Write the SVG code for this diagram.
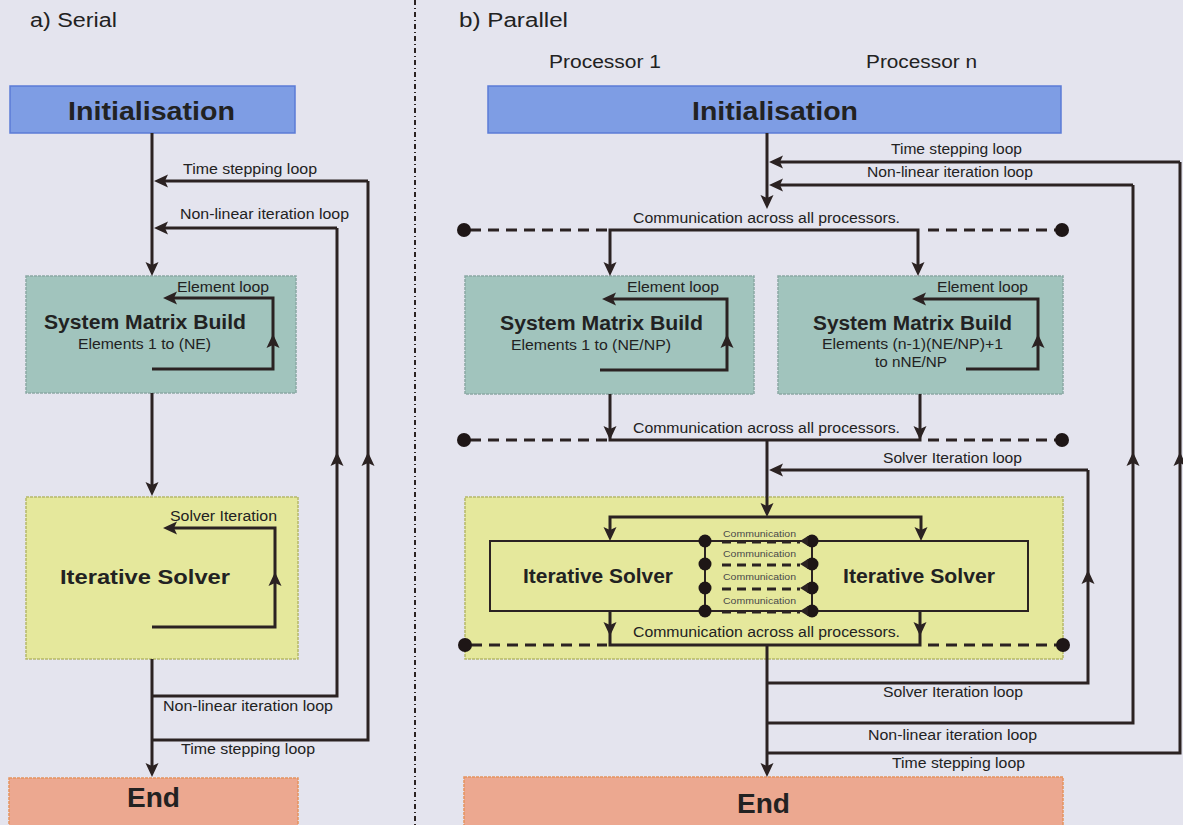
<svg xmlns="http://www.w3.org/2000/svg" xmlns:xlink="http://www.w3.org/1999/xlink" width="1183" height="825" viewBox="0 0 1183 825">
<style>
.t{font-family:"Liberation Sans",Arial,sans-serif;fill:#222;}
.b{font-weight:bold;}
.sm{fill:#4a4a4a;}
.ln{fill:none;stroke:#2b2222;stroke-width:3;}
.th{fill:none;stroke:#2b2222;stroke-width:2;}
.ds{fill:none;stroke:#2b2222;stroke-width:3;stroke-dasharray:11,7;}
.dsm{fill:none;stroke:#2b2222;stroke-width:3;stroke-dasharray:9,6;}
.ah{fill:#2b2222;}
.dot{fill:#1e1616;}
.init{fill:#7e9de4;stroke:#5b7bd6;stroke-width:1.5;}
.smb{fill:#a1c4bd;stroke:#8aa8a4;stroke-width:1.5;stroke-dasharray:3,1;}
.is{fill:#e5e89c;stroke:#b5b86a;stroke-width:1.5;stroke-dasharray:3,1;}
.end{fill:#eca890;stroke:#e5935e;stroke-width:1.5;stroke-dasharray:3,1;}
</style>
<defs>
<path id="ah" class="ah" d="M0,0 L-6.5,-14 L0,-11 L6.5,-14 Z"/>
</defs>
<rect x="0" y="0" width="1183" height="825" fill="#e4e4ee"/>

<!-- divider -->
<path d="M415,0 V825" fill="none" stroke="#2b2222" stroke-width="2" stroke-dasharray="5,3,1,3"/>

<!-- headings -->
<g id="heading-serial"><text class="t" x="30" y="27" font-size="20" textLength="87" lengthAdjust="spacingAndGlyphs">a) Serial</text></g>
<g id="heading-parallel"><text class="t" x="459" y="27" font-size="20" textLength="109" lengthAdjust="spacingAndGlyphs">b) Parallel</text></g>
<g id="label-proc1"><text class="t" x="549" y="68" font-size="18" textLength="112" lengthAdjust="spacingAndGlyphs">Processor 1</text></g>
<g id="label-procn"><text class="t" x="866" y="68" font-size="18" textLength="111" lengthAdjust="spacingAndGlyphs">Processor n</text></g>

<!-- Serial nodes -->
<g id="s-init">
<rect class="init" x="10" y="86" width="285" height="47"/>
<text class="t b" x="68" y="120" font-size="26" textLength="167" lengthAdjust="spacingAndGlyphs">Initialisation</text>
</g>
<g id="s-smb">
<rect class="smb" x="26" y="276" width="270" height="117"/>
<text class="t b" x="44" y="329" font-size="20" textLength="202" lengthAdjust="spacingAndGlyphs">System Matrix Build</text>
<text class="t" x="78" y="349" font-size="14" textLength="133" lengthAdjust="spacingAndGlyphs">Elements 1 to (NE)</text>
</g>
<g id="s-is">
<rect class="is" x="26" y="497" width="272" height="162"/>
<text class="t b" x="60" y="584" font-size="21" textLength="170" lengthAdjust="spacingAndGlyphs">Iterative Solver</text>
</g>
<g id="s-end">
<rect class="end" x="9" y="778" width="289" height="60"/>
<text class="t b" x="127" y="807" font-size="27" textLength="53" lengthAdjust="spacingAndGlyphs">End</text>
</g>

<!-- Parallel nodes -->
<g id="p-init">
<rect class="init" x="488" y="86" width="573" height="47"/>
<text class="t b" x="692" y="120" font-size="26" textLength="166" lengthAdjust="spacingAndGlyphs">Initialisation</text>
</g>
<g id="p-smb1">
<rect class="smb" x="465" y="276" width="289" height="118"/>
<text class="t b" x="500" y="330" font-size="20" textLength="203" lengthAdjust="spacingAndGlyphs">System Matrix Build</text>
<text class="t" x="511" y="350" font-size="14" textLength="160" lengthAdjust="spacingAndGlyphs">Elements 1 to (NE/NP)</text>
</g>
<g id="p-smbn">
<rect class="smb" x="778" y="276" width="285" height="118"/>
<text class="t b" x="813" y="330" font-size="20" textLength="199" lengthAdjust="spacingAndGlyphs">System Matrix Build</text>
<text class="t" x="822" y="349" font-size="14" textLength="181" lengthAdjust="spacingAndGlyphs">Elements (n-1)(NE/NP)+1</text>
<text class="t" x="875" y="367" font-size="14" textLength="72" lengthAdjust="spacingAndGlyphs">to nNE/NP</text>
</g>
<g id="p-is">
<rect class="is" x="465" y="497" width="598" height="162"/>
<rect class="th" x="490" y="541" width="538" height="70"/>
<text class="t b" x="523" y="583" font-size="20" textLength="150" lengthAdjust="spacingAndGlyphs">Iterative Solver</text>
<text class="t b" x="843" y="583" font-size="20" textLength="152" lengthAdjust="spacingAndGlyphs">Iterative Solver</text>
</g>
<g id="p-end">
<rect class="end" x="464" y="777" width="599" height="60"/>
<text class="t b" x="737" y="813" font-size="27" textLength="53" lengthAdjust="spacingAndGlyphs">End</text>
</g>

<!-- connectors -->
<g id="connectors">
<!-- serial -->
<path class="ln" d="M152,133 V268"/>
<use xlink:href="#ah" href="#ah" transform="translate(152,276)"/>
<path class="ln" d="M368,181 H160"/>
<use xlink:href="#ah" href="#ah" transform="translate(154,181) rotate(90)"/>
<path class="ln" d="M337,228 H160"/>
<use xlink:href="#ah" href="#ah" transform="translate(154,228) rotate(90)"/>
<path class="ln" d="M337,228 V696 H152"/>
<use xlink:href="#ah" href="#ah" transform="translate(337,452) rotate(180)"/>
<path class="ln" d="M368,181 V740 H152"/>
<use xlink:href="#ah" href="#ah" transform="translate(368,452) rotate(180)"/>
<path class="ln" d="M152,369 H273 V298 H170"/>
<use xlink:href="#ah" href="#ah" transform="translate(163,298) rotate(90)"/>
<use xlink:href="#ah" href="#ah" transform="translate(273,334) rotate(180)"/>
<path class="ln" d="M152,393 V488"/>
<use xlink:href="#ah" href="#ah" transform="translate(152,496)"/>
<path class="ln" d="M152,627 H275 V528 H170"/>
<use xlink:href="#ah" href="#ah" transform="translate(163,528) rotate(90)"/>
<use xlink:href="#ah" href="#ah" transform="translate(275,572) rotate(180)"/>
<path class="ln" d="M152,659 V769"/>
<use xlink:href="#ah" href="#ah" transform="translate(152,777)"/>

<!-- parallel: top -->
<path class="ln" d="M767,133 V201"/>
<use xlink:href="#ah" href="#ah" transform="translate(767,209)"/>
<path class="ln" d="M1180,162 H775"/>
<use xlink:href="#ah" href="#ah" transform="translate(769,162) rotate(90)"/>
<path class="ln" d="M1133,185 H775"/>
<use xlink:href="#ah" href="#ah" transform="translate(769,185) rotate(90)"/>
<path class="ln" d="M1180,162 V753 H767"/>
<use xlink:href="#ah" href="#ah" transform="translate(1180,452) rotate(180)"/>
<path class="ln" d="M1133,185 V723 H767"/>
<use xlink:href="#ah" href="#ah" transform="translate(1133,452) rotate(180)"/>

<!-- comm 1 -->
<path class="ln" d="M610,268 V230 H918 V268"/>
<use xlink:href="#ah" href="#ah" transform="translate(610,276)"/>
<use xlink:href="#ah" href="#ah" transform="translate(918,276)"/>
<path class="ds" d="M470,230 H607"/>
<path class="ds" d="M928,230 H1056"/>
<circle class="dot" cx="464" cy="230" r="7"/>
<circle class="dot" cx="1062" cy="230" r="7"/>

<!-- element loops -->
<path class="ln" d="M600,370 H727 V299 H609"/>
<use xlink:href="#ah" href="#ah" transform="translate(602,299) rotate(90)"/>
<use xlink:href="#ah" href="#ah" transform="translate(727,334) rotate(180)"/>
<path class="ln" d="M966,369 H1038 V299 H919"/>
<use xlink:href="#ah" href="#ah" transform="translate(912,299) rotate(90)"/>
<use xlink:href="#ah" href="#ah" transform="translate(1038,334) rotate(180)"/>

<!-- comm 2 -->
<path class="ln" d="M610,394 V440 H920 V394"/>
<use xlink:href="#ah" href="#ah" transform="translate(610,440)"/>
<use xlink:href="#ah" href="#ah" transform="translate(920,440)"/>
<path class="ds" d="M470,440 H607"/>
<path class="ds" d="M928,440 H1056"/>
<circle class="dot" cx="464" cy="440" r="7"/>
<circle class="dot" cx="1062" cy="440" r="7"/>

<!-- into solver -->
<path class="ln" d="M767,440 V509"/>
<use xlink:href="#ah" href="#ah" transform="translate(767,517)"/>
<path class="ln" d="M1088,470 H775"/>
<use xlink:href="#ah" href="#ah" transform="translate(769,470) rotate(90)"/>
<path class="ln" d="M1088,470 V683 H767"/>
<use xlink:href="#ah" href="#ah" transform="translate(1088,570) rotate(180)"/>
<path class="ln" d="M610,533 V517 H921 V533"/>
<use xlink:href="#ah" href="#ah" transform="translate(610,541)"/>
<use xlink:href="#ah" href="#ah" transform="translate(921,541)"/>

<!-- inner communication -->
<path class="th" d="M705,541 V611 M812,541 V611"/>
<path class="dsm" d="M722,542 H800 M722,565 H800 M722,589 H800 M722,612 H800"/>
<circle class="dot" cx="705" cy="541" r="6.5"/>
<circle class="dot" cx="705" cy="564" r="6.5"/>
<circle class="dot" cx="705" cy="588" r="6.5"/>
<circle class="dot" cx="705" cy="611" r="6.5"/>
<circle class="dot" cx="812" cy="541" r="6.5"/>
<circle class="dot" cx="812" cy="564" r="6.5"/>
<circle class="dot" cx="812" cy="588" r="6.5"/>
<circle class="dot" cx="812" cy="611" r="6.5"/>
<path class="ah" d="M800,541 L808,536 L808,546 Z M800,564 L808,559 L808,569 Z M800,588 L808,583 L808,593 Z M800,611 L808,606 L808,616 Z"/>

<!-- comm 3 -->
<path class="ln" d="M610,611 V645 H920 V611"/>
<use xlink:href="#ah" href="#ah" transform="translate(610,636)"/>
<use xlink:href="#ah" href="#ah" transform="translate(920,636)"/>
<path class="ds" d="M471,645 H607"/>
<path class="ds" d="M928,645 H1057"/>
<circle class="dot" cx="465" cy="645" r="7"/>
<circle class="dot" cx="1063" cy="645" r="7"/>

<path class="ln" d="M767,645 V769"/>
<use xlink:href="#ah" href="#ah" transform="translate(767,777)"/>
</g>

<!-- connector labels -->
<g id="labels">
<text class="t" x="183" y="174" font-size="14" textLength="134" lengthAdjust="spacingAndGlyphs">Time stepping loop</text>
<text class="t" x="180" y="219" font-size="14" textLength="169" lengthAdjust="spacingAndGlyphs">Non-linear iteration loop</text>
<text class="t" x="177" y="292" font-size="14" textLength="92" lengthAdjust="spacingAndGlyphs">Element loop</text>
<text class="t" x="170" y="521" font-size="14" textLength="107" lengthAdjust="spacingAndGlyphs">Solver Iteration</text>
<text class="t" x="163" y="711" font-size="14" textLength="170" lengthAdjust="spacingAndGlyphs">Non-linear iteration loop</text>
<text class="t" x="181" y="754" font-size="14" textLength="134" lengthAdjust="spacingAndGlyphs">Time stepping loop</text>

<text class="t" x="891" y="154" font-size="14" textLength="131" lengthAdjust="spacingAndGlyphs">Time stepping loop</text>
<text class="t" x="867" y="177" font-size="14" textLength="166" lengthAdjust="spacingAndGlyphs">Non-linear iteration loop</text>
<text class="t" x="633" y="223" font-size="14" textLength="267" lengthAdjust="spacingAndGlyphs">Communication across all processors.</text>
<text class="t" x="627" y="292" font-size="14" textLength="92" lengthAdjust="spacingAndGlyphs">Element loop</text>
<text class="t" x="937" y="292" font-size="14" textLength="91" lengthAdjust="spacingAndGlyphs">Element loop</text>
<text class="t" x="633" y="433" font-size="14" textLength="267" lengthAdjust="spacingAndGlyphs">Communication across all processors.</text>
<text class="t" x="883" y="463" font-size="14" textLength="139" lengthAdjust="spacingAndGlyphs">Solver Iteration loop</text>
<text class="t sm" x="723" y="537" font-size="9" textLength="73" lengthAdjust="spacingAndGlyphs">Communication</text>
<text class="t sm" x="723" y="557" font-size="9" textLength="73" lengthAdjust="spacingAndGlyphs">Communication</text>
<text class="t sm" x="723" y="580" font-size="9" textLength="73" lengthAdjust="spacingAndGlyphs">Communication</text>
<text class="t sm" x="723" y="604" font-size="9" textLength="73" lengthAdjust="spacingAndGlyphs">Communication</text>
<text class="t" x="633" y="637" font-size="14" textLength="267" lengthAdjust="spacingAndGlyphs">Communication across all processors.</text>
<text class="t" x="883" y="697" font-size="14" textLength="140" lengthAdjust="spacingAndGlyphs">Solver Iteration loop</text>
<text class="t" x="868" y="740" font-size="14" textLength="169" lengthAdjust="spacingAndGlyphs">Non-linear iteration loop</text>
<text class="t" x="892" y="768" font-size="14" textLength="133" lengthAdjust="spacingAndGlyphs">Time stepping loop</text>
</g>
</svg>
